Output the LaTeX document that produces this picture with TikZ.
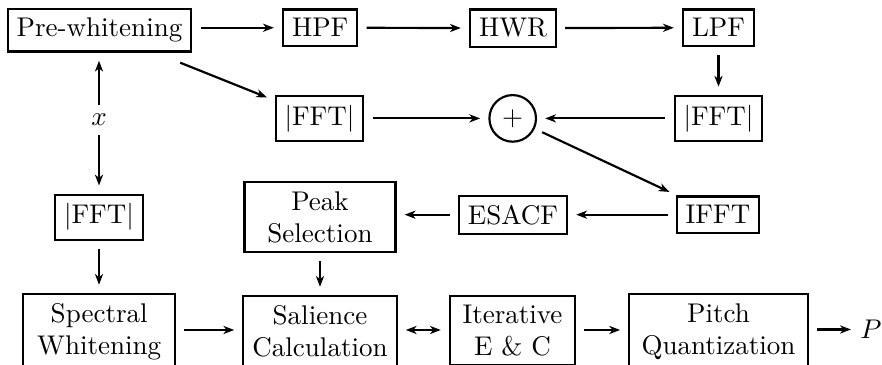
\documentclass[tikz,border=0pt]{standalone}
\usetikzlibrary{arrows.meta,calc}
\begin{document}
\begin{tikzpicture}[x=0.37pt,y=-0.37pt,
  box/.style={draw,thick,align=center,inner sep=3.33pt},
  arr/.style={thick,-{Stealth[length=4pt,width=3pt,inset=1.2pt]},shorten >=3pt,shorten <=3pt},
  darr/.style={thick,{Stealth[length=4pt,width=3pt,inset=1.2pt]}-{Stealth[length=4pt,width=3pt,inset=1.2pt]},shorten >=3pt,shorten <=3pt},
]
\useasboundingbox (0,0) rectangle (882,365);
% top row
\node[box,anchor=base] (pre) at (99.5,37) {Pre-whitening};
\node[box,anchor=base] (hpf) at (320.2,37) {HPF};
\node[box,anchor=base] (hwr) at (513,37) {HWR};
\node[box,anchor=base] (lpf) at (718.5,37) {LPF};
% second row
\node[box] (fftm) at (319.5,118.4) {$|$FFT$|$};
\node[draw,thick,circle,minimum size=46.6*0.37pt,inner sep=0pt] (plus) at (512.7,118.4) {$+$};
\node[box] (fftr) at (718.5,118.4) {$|$FFT$|$};
\node (x) at (99,120) {$x$};
% third row
\node[box] (fftl) at (99,217.2) {$|$FFT$|$};
\node[box,minimum width=151*0.37pt] (peak) at (320,217.2) {Peak\\Selection};
\node[box] (esacf) at (513,214.7) {ESACF};
\node[box] (ifft) at (718,214.7) {IFFT};
% bottom row
\node[box,minimum width=152*0.37pt] (spec) at (99.2,331.5) {Spectral\\Whitening};
\node[box,minimum width=151.4*0.37pt] (sal) at (320,331) {Salience\\Calculation};
\node[box,minimum width=125*0.37pt] (iter) at (512.5,330.6) {Iterative\\E \& C};
\node[box,minimum width=178.4*0.37pt] (pitch) at (718.5,331.5) {Pitch\\Quantization};
\node (p) at (871,329.5) {$P$};
% connectors
\draw[arr] (pre.east |- hpf.west) -- (hpf.west);
\draw[arr] (hpf.east) -- (hwr.west);
\draw[arr] (hwr.east) -- (lpf.west);
\draw[arr] (lpf.south) -- (fftr.north);
\draw[arr,shorten <=10pt] (pre) -- (fftm);
\draw[arr] (fftm.east) -- (plus.west);
\draw[arr] (fftr.west) -- (plus.east);
\draw[arr] (plus) -- (ifft);
\draw[arr] (ifft.west) -- (ifft.west -| esacf.east);
\draw[arr] (esacf.west) -- (esacf.west -| peak.east);
\draw[arr] (peak.south) -- (sal.north);
\draw[arr,shorten <=0pt] (x.north) -- (x.north |- pre.south);
\draw[arr,shorten <=0pt] (x.south) -- (x.south |- fftl.north);
\draw[arr] (fftl.south) -- (fftl.south |- spec.north);
\draw[arr] (spec.east |- 0,330) -- (sal.west |- 0,330);
\draw[darr] (sal.east |- 0,330) -- (iter.west |- 0,330);
\draw[arr] (iter.east |- 0,330) -- (pitch.west |- 0,330);
\draw[arr,shorten >=0pt] (pitch.east |- p.west) -- (p.west);
\end{tikzpicture}
\end{document}
